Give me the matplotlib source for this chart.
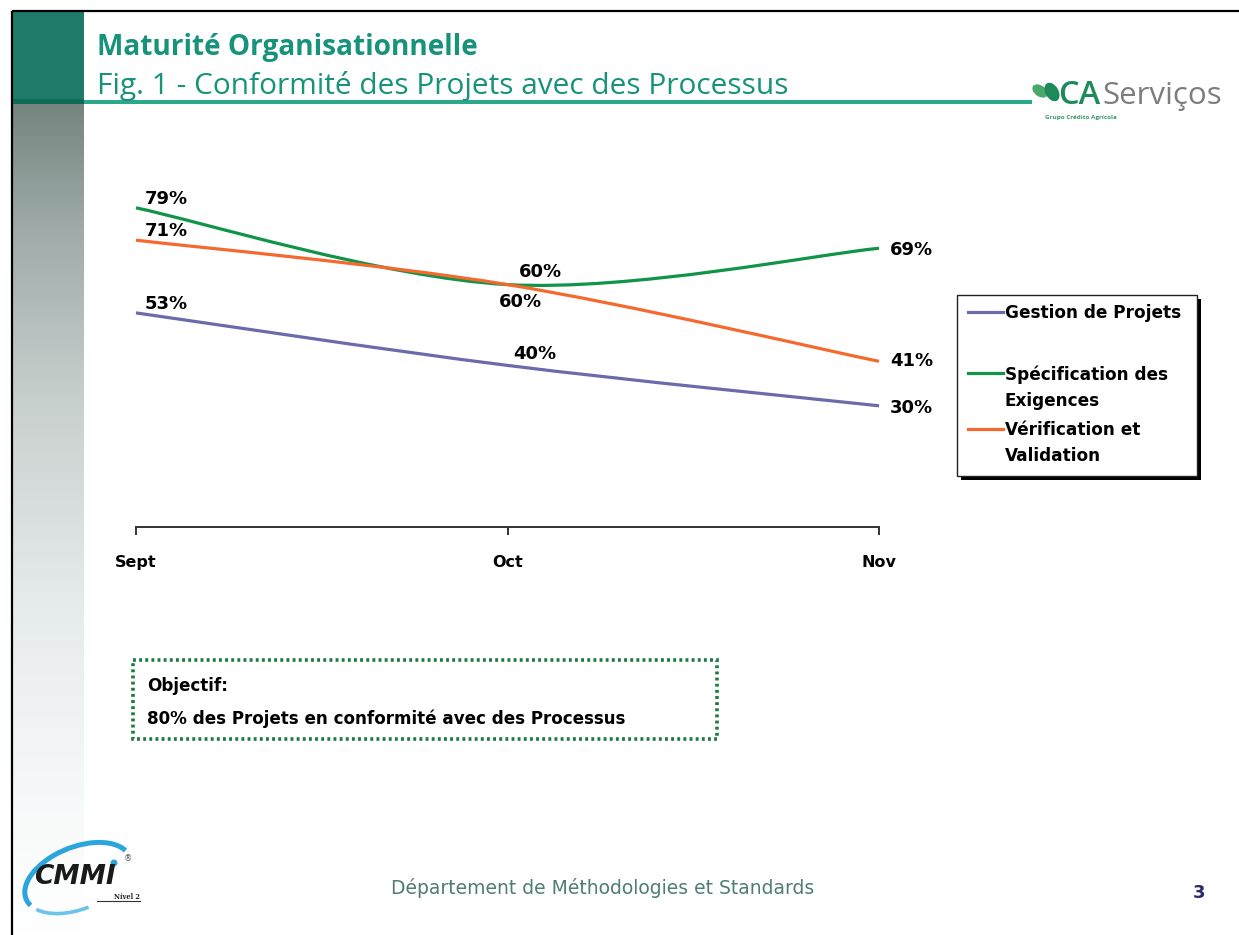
import numpy as np
import matplotlib
matplotlib.use("Agg")
import matplotlib.pyplot as plt
from matplotlib.path import Path
from matplotlib.patches import PathPatch, Rectangle, Ellipse, Arc, Circle
from matplotlib.lines import Line2D

# ---- data -------------------------------------------------------------
months = ["Sept", "Oct", "Nov"]
gestion = [53, 40, 30]
specification = [79, 60, 69]
verification = [71, 60, 41]

series_names = ["Gestion de Projets", "Spécification des\nExigences",
                "Vérification et\nValidation"]
series_colors = ["#6b6bab", "#0f9448", "#f5692e"]

title_main = "Maturité Organisationnelle"
title_sub = "Fig. 1 - Conformité des Projets avec des Processus"
objective_head = "Objectif:"
objective_text = "80% des Projets en conformité avec des Processus"
footer_text = "Département de Méthodologies et Standards"
page_number = "3"

W, H = 1239, 935
TEAL = "#16937a"
FONT = "Open Sans"
LFONT = "DejaVu Sans"

fig = plt.figure(figsize=(W / 100, H / 100), dpi=100)
fig.patch.set_facecolor("white")

# decoration layer in pixel coordinates
deco = fig.add_axes([0, 0, 1, 1], zorder=0)
deco.set_xlim(0, W)
deco.set_ylim(H, 0)
deco.axis("off")

# left gradient strip
grad_y = np.array([0.0, 0.15, 0.35, 0.6, 0.85, 1.0])
grad_c = np.array([[0.46, 0.52, 0.50], [0.62, 0.67, 0.66], [0.78, 0.81, 0.80],
                   [0.90, 0.92, 0.92], [0.97, 0.98, 0.98], [1.0, 1.0, 1.0]])
t = np.linspace(0, 1, 400)
img = np.stack([np.interp(t, grad_y, grad_c[:, k]) for k in range(3)], axis=-1)
img = np.repeat(img[:, None, :], 2, axis=1)
deco.imshow(img, extent=[13, 84, 935, 103], aspect="auto", interpolation="bilinear")

# dark block top-left and header rule
deco.add_patch(Rectangle((13, 12), 71, 88, facecolor="#1f7a6a", edgecolor="none"))
deco.add_patch(Rectangle((13, 99), 71, 5, facecolor="#0d6b58", edgecolor="none"))
deco.add_patch(Rectangle((84, 100), 948, 4, facecolor="#2aa88b", edgecolor="none"))

# frame lines (top and left)
deco.plot([12, W], [11, 11], color="black", lw=1.6, solid_capstyle="butt")
deco.plot([12, 12], [11, H], color="black", lw=1.6, solid_capstyle="butt")

# titles
deco.text(97, 48, title_main, fontsize=20.2, fontweight="bold", color=TEAL,
          family=FONT, va="center", ha="left")
deco.text(97, 86, title_sub, fontsize=21.5, color=TEAL, family=FONT,
          va="center", ha="left")

# CA Serviços logo
deco.add_patch(Ellipse((1040, 91), 17, 11, angle=35, facecolor="#4aa86a", edgecolor="none"))
deco.add_patch(Ellipse((1052, 92), 13, 20, angle=-30, facecolor="#1d8a5c", edgecolor="none"))
deco.text(1058, 96, "CA", fontsize=23.5, fontweight="semibold", color="#1d8a5c",
          family=FONT, va="center", ha="left")
deco.text(1102, 96, "Serviços", fontsize=22.5, color="#7d7d7d", family=FONT,
          va="center", ha="left")
deco.text(1045, 118, "Grupo Crédito Agrícola", fontsize=4.6, color="#3a9a6a",
          family=FONT, fontweight="bold", va="center", ha="left")

# ---- chart -------------------------------------------------------------
ax = fig.add_axes([136 / W, 1 - 527 / H, 743 / W, 404 / H], zorder=2)
ax.set_facecolor("none")
x = np.arange(len(months))
ax.set_xlim(0, len(months) - 1)
ax.set_ylim(0, 100)


def smooth_path(xs, ys):
    pts = list(zip(xs, ys))
    n = len(pts)
    verts = [pts[0]]
    codes = [Path.MOVETO]
    for i in range(n - 1):
        p0 = pts[i - 1] if i > 0 else pts[i]
        p1, p2 = pts[i], pts[i + 1]
        p3 = pts[i + 2] if i + 2 < n else pts[i + 1]
        c1 = (p1[0] + (p2[0] - p0[0]) / 6, p1[1] + (p2[1] - p0[1]) / 6)
        c2 = (p2[0] - (p3[0] - p1[0]) / 6, p2[1] - (p3[1] - p1[1]) / 6)
        verts += [c1, c2, p2]
        codes += [Path.CURVE4] * 3
    return Path(verts, codes)


all_series = [gestion, specification, verification]
for vals, col in zip(all_series, series_colors):
    ax.add_patch(PathPatch(smooth_path(x, vals), facecolor="none", edgecolor=col,
                           lw=2.3, clip_on=False, capstyle="butt"))

for sp in ["top", "left", "right"]:
    ax.spines[sp].set_visible(False)
ax.spines["bottom"].set_color("#333333")
ax.spines["bottom"].set_linewidth(1.4)
ax.set_yticks([])
ax.set_xticks(x)
ax.set_xticklabels(months)
ax.tick_params(axis="x", direction="out", length=6, width=1.4, color="#333333",
               pad=14, labelsize=11.5)
for lab in ax.get_xticklabels():
    lab.set_fontweight("bold")
    lab.set_family(LFONT)

# data labels: (series, index) -> pixel offset and vertical alignment
label_style = {
    (0, 0): (9, 0, "bottom"), (0, 1): (6, 2, "bottom"), (0, 2): (11, -2, "center"),
    (1, 0): (9, 0, "bottom"), (1, 1): (11, 4, "bottom"), (1, 2): (11, -2, "center"),
    (2, 0): (9, 0, "bottom"), (2, 1): (-9, -8, "top"), (2, 2): (11, 0, "center"),
}
for si, vals in enumerate(all_series):
    for i, v in enumerate(vals):
        dx, dy, va = label_style[(si, i)]
        ax.annotate(f"{v}%", (x[i], v), xytext=(dx, dy), textcoords="offset pixels",
                    ha="left", va=va, fontsize=13, fontweight="bold",
                    family=LFONT, color="black", annotation_clip=False)

# legend box with shadow
lx0, ly0, lx1, ly1 = 957, 295, 1197, 476
deco.add_patch(Rectangle((lx0 + 4, ly0 + 4), lx1 - lx0, ly1 - ly0,
                         facecolor="black", edgecolor="none", zorder=3))
deco.add_patch(Rectangle((lx0, ly0), lx1 - lx0, ly1 - ly0, facecolor="white",
                         edgecolor="#222222", lw=1.0, zorder=4))
legend_rows = [312, 373, 429]
for name, col, yy in zip(series_names, series_colors, legend_rows):
    deco.add_line(Line2D([968, 1003], [yy, yy], color=col, lw=2.3, zorder=5))
    deco.text(1005, yy - 8, name, fontsize=12.2, fontweight="bold", family=LFONT,
              va="top", ha="left", linespacing=1.6, zorder=5)

# objective box
deco.add_patch(Rectangle((133, 660), 584, 79, facecolor="none", edgecolor="#1c7a3e",
                         lw=2.6, linestyle=(0, (0.8, 0.9))))
deco.text(147, 686, objective_head, fontsize=12.1, fontweight="bold",
          family=LFONT, va="center", ha="left")
deco.text(147, 719, objective_text, fontsize=12.1, fontweight="bold",
          family=LFONT, va="center", ha="left")

# footer
deco.text(603, 888, footer_text, fontsize=13.5, color="#4e7d74", family=LFONT,
          va="center", ha="center")
deco.text(1199, 893, page_number, fontsize=13, color="#2b2b6b", family=LFONT,
          fontweight="bold", va="center", ha="center")

# CMMI logo
deco.add_patch(Arc((78, 878), 112, 62, angle=-22, theta1=172, theta2=352,
                   color="#2aa6dc", lw=3.6))
deco.add_patch(Arc((78, 878), 112, 62, angle=-22, theta1=92, theta2=165,
                   color="#6cc4ea", lw=2.6))
deco.add_patch(Circle((114, 863), 3.5, facecolor="#2aa6dc", edgecolor="none"))
deco.text(75, 877, "CMMI", fontsize=19, fontweight="heavy", style="italic",
          family="DejaVu Sans", color="#1a1a1a", va="center", ha="center")
deco.text(128, 859, "®", fontsize=6, color="#555555", va="center", ha="center")
deco.plot([97, 140], [901, 901], color="#333333", lw=0.8)
deco.text(140, 897, "Nível 2", fontsize=4.8, fontweight="bold", family="DejaVu Serif",
          va="center", ha="right", color="#222222")

fig.savefig("out.png", dpi=100, facecolor="white")
